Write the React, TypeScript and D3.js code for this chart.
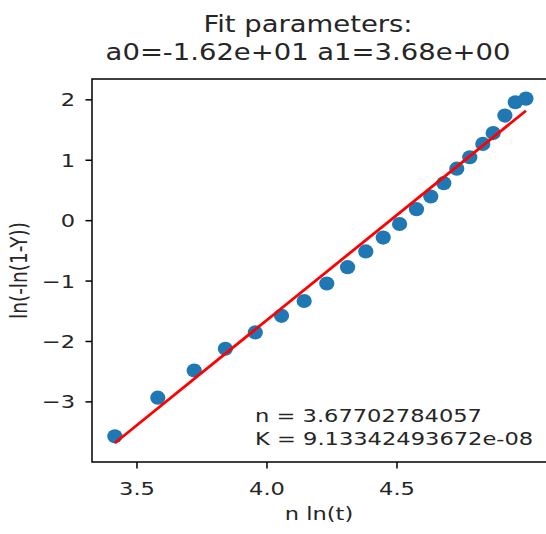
import React from "react";
import * as d3 from "d3";

const xValues = [3.415, 3.58, 3.72, 3.84, 3.955, 4.056, 4.143, 4.23, 4.31, 4.38, 4.447, 4.51, 4.575, 4.63, 4.68, 4.73, 4.78, 4.83, 4.87, 4.915, 4.955, 4.996];
const yValues = [-3.57, -2.93, -2.48, -2.12, -1.85, -1.575, -1.33, -1.04, -0.77, -0.51, -0.28, -0.055, 0.19, 0.4, 0.62, 0.86, 1.05, 1.27, 1.45, 1.74, 1.96, 2.02];
const fitX = [3.415, 4.996];
const fitY = [-3.68, 1.82];
const xTicks = [3.5, 4.0, 4.5];
const yTicks = [-3, -2, -1, 0, 1, 2];
const titleLines = ["Fit parameters:", "a0=-1.62e+01 a1=3.68e+00"];
const annotations = ["n = 3.67702784057", "K = 9.13342493672e-08"];
const xLabel = "n ln(t)";
const yLabel = "ln(-ln(1-Y))";

const W = 546;
const H = 534;
const left = 92;
const right = 547;
const top = 79;
const bottom = 462;
const FONT = "DejaVu Sans, sans-serif";
const SX = 1.22;

function T({ x, y, anchor, size, children, dy }: any) {
  return (
    <g transform={`translate(${x},${y}) scale(${SX},1)`}>
      <text textAnchor={anchor || "start"} fontSize={size} dy={dy} fill="#262626">
        {children}
      </text>
    </g>
  );
}

export default function App() {
  const x = d3.scaleLinear().domain([3.327, 5.077]).range([left, right]);
  const y = d3.scaleLinear().domain([-3.995, 2.345]).range([bottom, top]);
  const line = d3
    .line<number>()
    .x((_, i) => x(fitX[i]))
    .y((d) => y(d));
  const fmtY = (v: number) => (v < 0 ? "\u2212" + Math.abs(v) : String(v));
  return (
    <svg
      width={W}
      height={H}
      style={{ position: "absolute", left: 0, top: 0, background: "#fff" }}
      fontFamily={FONT}
    >
      <rect x={0} y={0} width={W} height={H} fill="#fff" />
      <defs>
        <clipPath id="clip">
          <rect x={left} y={top} width={right - left} height={bottom - top} />
        </clipPath>
      </defs>
      <g clipPath="url(#clip)">
        {xValues.map((xv, i) => (
          <ellipse key={i} cx={x(xv)} cy={y(yValues[i])} rx={7.6} ry={7.1} fill="#1f77b4" />
        ))}
        <path d={line(fitY) || ""} stroke="#ff0000" strokeWidth={2.8} fill="none" />
      </g>
      <rect
        x={left}
        y={top}
        width={right - left}
        height={bottom - top}
        fill="none"
        stroke="#000"
        strokeWidth={1.5}
      />
      {xTicks.map((t) => (
        <g key={t}>
          <line x1={x(t)} x2={x(t)} y1={bottom} y2={bottom + 6.5} stroke="#000" strokeWidth={1.5} />
          <T x={x(t)} y={bottom + 33} anchor="middle" size={18.5}>
            {t.toFixed(1)}
          </T>
        </g>
      ))}
      {yTicks.map((t) => (
        <g key={t}>
          <line x1={left} x2={left - 6.5} y1={y(t)} y2={y(t)} stroke="#000" strokeWidth={1.5} />
          <T x={left - 17} y={y(t)} anchor="end" size={18.5} dy="0.35em">
            {fmtY(t)}
          </T>
        </g>
      ))}
      <T x={x(4.2)} y={520} anchor="middle" size={18.5}>
        {xLabel}
      </T>
      <g transform={`translate(27,${(top + bottom) / 2}) rotate(-90) scale(1,${SX})`}>
        <text textAnchor="middle" fontSize={18.5} fill="#262626">
          {yLabel}
        </text>
      </g>
      {titleLines.map((s, i) => (
        <T key={i} x={308} y={32 + i * 28} anchor="middle" size={22.5}>
          {s}
        </T>
      ))}
      {annotations.map((s, i) => (
        <T key={i} x={255} y={421.5 + i * 23.5} size={18.5}>
          {s}
        </T>
      ))}
    </svg>
  );
}
